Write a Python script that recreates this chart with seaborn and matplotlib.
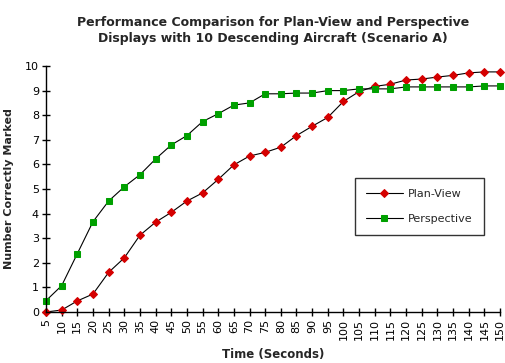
import pandas as pd
import matplotlib
matplotlib.use('Agg')
import matplotlib.pyplot as plt
import seaborn as sns

# Data
time_s = list(range(5, 155, 5))
plan_view = [0.0, 0.08, 0.45, 0.73, 1.61, 2.2, 3.12, 3.65, 4.05, 4.51,
             4.84, 5.39, 5.98, 6.34, 6.49, 6.7, 7.17, 7.55, 7.91, 8.56,
             8.96, 9.17, 9.26, 9.43, 9.47, 9.55, 9.62, 9.72, 9.76, 9.76]
perspective = [0.46, 1.07, 2.37, 3.67, 4.51, 5.09, 5.58, 6.22, 6.79, 7.17,
               7.74, 8.06, 8.41, 8.5, 8.87, 8.87, 8.9, 8.9, 9.0, 9.0,
               9.07, 9.07, 9.07, 9.15, 9.15, 9.15, 9.15, 9.15, 9.19, 9.19]
y_ticks = list(range(0, 11))

df = pd.DataFrame({'Time': time_s, 'Plan-View': plan_view, 'Perspective': perspective})

sns.set_style('ticks')
plt.rcParams['font.family'] = ['DejaVu Sans']

fig = plt.figure(figsize=(5.06, 3.63), dpi=100)
ax = fig.add_axes([46 / 506, 1 - 312 / 363, 454 / 506, 246 / 363])

sns.lineplot(data=df, x='Time', y='Plan-View', ax=ax, color='black', lw=0.8,
             marker='D', markersize=4.5, markerfacecolor='#d40000',
             markeredgecolor='#d40000', label='Plan-View', clip_on=False)
sns.lineplot(data=df, x='Time', y='Perspective', ax=ax, color='black', lw=0.8,
             marker='s', markersize=5, markerfacecolor='#00a000',
             markeredgecolor='#00a000', label='Perspective', clip_on=False)

ax.set_xlim(5, 150)
ax.set_ylim(0, 10)
ax.set_xticks(time_s)
ax.set_xticklabels([str(t) for t in time_s], rotation=90, fontsize=8)
ax.set_yticks(y_ticks)
ax.set_yticklabels([str(v) for v in y_ticks], fontsize=8)
ax.tick_params(direction='inout', length=6, width=1, colors='black', pad=2)
sns.despine(ax=ax)
for s in ['left', 'bottom']:
    ax.spines[s].set_linewidth(1)
    ax.spines[s].set_color('black')

ax.set_xlabel('Time (Seconds)', fontsize=8.5, fontweight='bold', labelpad=6)
ax.set_ylabel('Number Correctly Marked', fontsize=8, fontweight='bold', labelpad=8)

leg = ax.legend(loc='upper left', bbox_to_anchor=(309 / 454, 1 - (178 - 66) / 246),
                fontsize=8, frameon=True, fancybox=False, edgecolor='black',
                borderpad=1.0, labelspacing=1.3, handlelength=3.3,
                handletextpad=0.5, borderaxespad=0)
leg.get_frame().set_linewidth(1)

fig.text(0.54, 0.955, 'Performance Comparison for Plan-View and Perspective\n'
         'Displays with 10 Descending Aircraft (Scenario A)',
         ha='center', va='top', fontsize=9, fontweight='bold', linespacing=1.3)

fig.savefig('out.png', dpi=100)
